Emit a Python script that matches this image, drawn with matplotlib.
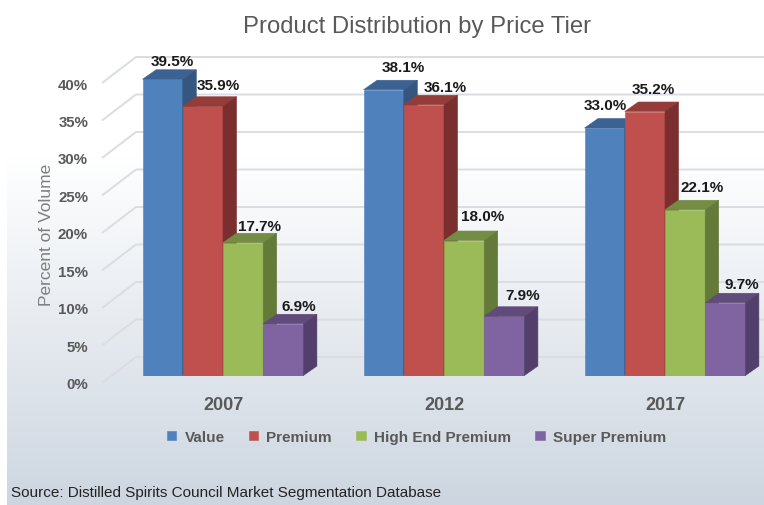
import matplotlib
matplotlib.use("Agg")
import matplotlib.pyplot as plt
import numpy as np
from matplotlib.colors import LinearSegmentedColormap
from matplotlib.patches import Polygon
from matplotlib.transforms import ScaledTranslation

years = ["2007", "2012", "2017"]
tiers = ["Value", "Premium", "High End Premium", "Super Premium"]
value = [39.5, 38.1, 33.0]
premium = [35.9, 36.1, 35.2]
high_end = [17.7, 18.0, 22.1]
super_premium = [6.9, 7.9, 9.7]
series = [value, premium, high_end, super_premium]
y_ticks = [0, 5, 10, 15, 20, 25, 30, 35, 40]

front = ["#4F81BD", "#C0504D", "#9BBB59", "#8064A2"]
top = ["#3C6293", "#943C3A", "#748C43", "#614B7B"]
side = ["#35567F", "#7A2F2E", "#647A39", "#533F6C"]
# label offsets from the bar's back-top corner region, in pixels (dx, dy up)
label_off = [
    [(10, 9), (20, 13), (1, 14)],
    [(15, 12), (21, 8), (8, 13)],
    [(16, 7), (19, 15), (17, 13)],
    [(16, 8), (18, 12), (17, 9)],
]

W, H = 764, 506
DPI = 100
plt.rcParams["font.family"] = ["Liberation Sans", "DejaVu Sans"]
fig = plt.figure(figsize=(W / DPI, H / DPI), dpi=DPI, facecolor="white")

# background panel with vertical gradient
bg = fig.add_axes([7 / W, 0, 1 - 7 / W, 1], zorder=0)
cmap = LinearSegmentedColormap.from_list(
    "panel", [(0, "#FFFFFF"), (0.31, "#FFFFFF"), (0.36, "#FBFCFD"), (1, "#CDD6E0")]
)
bg.imshow(np.linspace(0, 1, 506)[:, None], aspect="auto", cmap=cmap, vmin=0, vmax=1)
bg.axis("off")

# main axes: bottom edge is the front floor of the bars
PX_X = 221.0   # pixels per group
PX_Y = 7.5     # pixels per percent
left, right, floor = 102, W, 376.5
ax = fig.add_axes([left / W, (H - floor) / H, (right - left) / W, floor / H], zorder=1)
ax.patch.set_alpha(0)
ax.set_xlim((left - 223) / PX_X, (right - 223) / PX_X)
ax.set_ylim(0, floor / PX_Y)
for s in ax.spines.values():
    s.set_visible(False)

# gridlines: slanted side wall + back wall
grid_col = "#DADDE1"
wall_dx, wall_up, wall_down = 34 / PX_X, 18.5 / PX_Y, 7.5 / PX_Y
x0 = ax.get_xlim()[0]
for t in y_ticks:
    ax.plot([x0, x0 + wall_dx, ax.get_xlim()[1]],
            [t - wall_down, t + wall_up, t + wall_up],
            color=grid_col, lw=1.4, clip_on=False, zorder=1, solid_capstyle="butt")

# bars
bw = 40.2 / PX_X
dx, dy = 13.5 / PX_X, 9.5 / PX_Y
xs = np.arange(len(years))
for i, vals in enumerate(series):
    pos = xs + (i - 1.5) * bw
    ax.bar(pos, vals, width=bw, color=front[i], edgecolor=front[i], lw=0.4,
           zorder=3, label=tiers[i])
    for x, v in zip(pos, vals):
        l, r = x - bw / 2, x + bw / 2
        ax.add_patch(Polygon([(l, v), (l + dx, v + dy), (r + dx, v + dy), (r, v)],
                             closed=True, fc=top[i], ec=top[i], lw=0.4, zorder=3))
        ax.add_patch(Polygon([(r, 0), (r + dx, dy), (r + dx, v + dy), (r, v)],
                             closed=True, fc=side[i], ec=side[i], lw=0.4, zorder=3))
for i, vals in enumerate(series):
    pos = xs + (i - 1.5) * bw
    for j, (x, v) in enumerate(zip(pos, vals)):
        ox, oy = label_off[i][j]
        ax.text(x + ox / PX_X, v + dy + oy / PX_Y, f"{v:.1f}%", ha="center", va="center",
                fontsize=11, fontweight="bold", color="#1A1A1A", zorder=5)

# ticks
ax.set_yticks(y_ticks)
ax.set_yticklabels([f"{t}%" for t in y_ticks], fontsize=10.8, fontweight="bold", color="#595959")
ax.set_xticks(xs)
ax.set_xticklabels(years, fontsize=13, fontweight="bold", color="#595959")
ax.tick_params(axis="y", length=0, pad=10)
ax.tick_params(axis="x", length=0, pad=15)
off = ScaledTranslation(0, -7.5 / DPI, fig.dpi_scale_trans)
for lab in ax.get_yticklabels():
    lab.set_transform(lab.get_transform() + off)

ax.set_ylabel("Percent of Volume", fontsize=12.5, color="#7F7F7F")
ax.yaxis.set_label_coords((54 - left) / (right - left), (floor - 235) / floor)

ax.legend(loc="center left", bbox_to_anchor=(167 / W, (H - 438) / H),
          bbox_transform=fig.transFigure, ncol=4, frameon=False,
          handlelength=0.6, handleheight=0.6, handletextpad=0.54,
          columnspacing=1.6, borderpad=0, borderaxespad=0,
          labelcolor="#595959", prop={"size": 11, "weight": "bold"})

fig.text(417 / W, 1 - 27 / H, "Product Distribution by Price Tier", ha="center", va="center",
         fontsize=17.2, color="#595959")
fig.text(11 / W, 1 - 493 / H, "Source: Distilled Spirits Council Market Segmentation Database",
         ha="left", va="center", fontsize=11, color="#222222")

fig.savefig("out.png", dpi=DPI, facecolor="white")
